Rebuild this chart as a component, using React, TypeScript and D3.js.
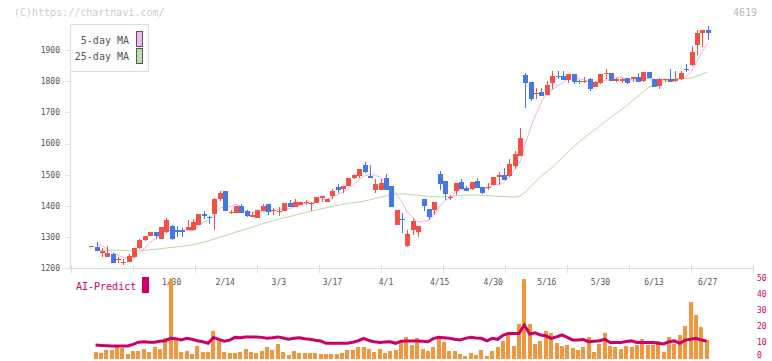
import React, { useEffect, useRef } from 'react';
import * as d3 from 'd3';

const W = 772;
const H = 361;

// daily candles, Jan 8 .. Jun 27
const opens = [
  1271, 1269, 1250, 1237, 1246, 1226, 1219, 1220, 1237, 1264,
  1291, 1302, 1316, 1295, 1316, 1336, 1323, 1323, 1322, 1323,
  1340, 1375, 1366, 1375, 1422, 1449, 1377, 1377, 1400, 1385,
  1366, 1360, 1385, 1407, 1384, 1379, 1385, 1409, 1398, 1403,
  1410, 1406, 1409, 1425, 1413, 1431, 1460, 1455, 1463, 1488,
  1495, 1530, 1497, 1450, 1452, 1490, 1465, 1340, 1358, 1270,
  1323, 1318, 1423, 1391, 1388, 1503, 1481, 1426, 1447, 1476,
  1458, 1455, 1481, 1460, 1458, 1468, 1493, 1500, 1495, 1527,
  1559, 1819, 1798, 1758, 1765, 1755, 1793, 1817, 1817, 1804,
  1822, 1801, 1796, 1808, 1781, 1795, 1822, 1826, 1801, 1801,
  1809, 1806, 1815, 1801, 1830, 1806, 1784, 1806, 1808, 1801,
  1806, 1840, 1852, 1917, 1954, 1964,
];
const closes = [
  1272, 1257, 1257, 1249, 1218, 1229, 1221, 1240, 1265, 1291,
  1303, 1316, 1302, 1331, 1356, 1295, 1315, 1315, 1331, 1347,
  1375, 1369, 1363, 1422, 1440, 1385, 1381, 1400, 1377, 1368,
  1371, 1388, 1400, 1379, 1388, 1385, 1409, 1396, 1413, 1413,
  1412, 1410, 1430, 1433, 1423, 1447, 1450, 1465, 1488, 1500,
  1520, 1508, 1489, 1471, 1472, 1452, 1398, 1388, 1356, 1310,
  1352, 1336, 1400, 1366, 1413, 1471, 1438, 1430, 1474, 1455,
  1447, 1477, 1458, 1441, 1460, 1493, 1500, 1484, 1536, 1565,
  1619, 1793, 1742, 1762, 1751, 1787, 1817, 1814, 1804, 1822,
  1798, 1796, 1801, 1774, 1798, 1822, 1826, 1801, 1808, 1806,
  1793, 1812, 1798, 1830, 1810, 1781, 1808, 1808, 1798, 1806,
  1826, 1836, 1895, 1954, 1964, 1954,
];
const highs = [
  1272, 1284, 1266, 1272, 1249, 1237, 1229, 1245, 1266, 1293,
  1305, 1316, 1316, 1333, 1361, 1338, 1337, 1330, 1354, 1357,
  1375, 1385, 1369, 1425, 1448, 1449, 1387, 1400, 1407, 1388,
  1379, 1388, 1406, 1407, 1394, 1398, 1409, 1420, 1423, 1413,
  1420, 1412, 1430, 1433, 1423, 1453, 1469, 1465, 1488, 1503,
  1520, 1540, 1530, 1487, 1487, 1503, 1465, 1388, 1377, 1323,
  1360, 1336, 1423, 1391, 1413, 1512, 1481, 1436, 1474, 1485,
  1465, 1477, 1490, 1460, 1474, 1493, 1509, 1522, 1549, 1577,
  1651, 1826, 1798, 1779, 1779, 1801, 1832, 1834, 1834, 1822,
  1822, 1805, 1812, 1811, 1801, 1822, 1838, 1826, 1810, 1810,
  1809, 1815, 1826, 1830, 1830, 1806, 1810, 1808, 1838, 1834,
  1833, 1854, 1912, 1964, 1964, 1977,
];
const lows = [
  1271, 1257, 1237, 1237, 1218, 1216, 1210, 1220, 1233, 1262,
  1289, 1302, 1293, 1293, 1314, 1290, 1301, 1301, 1322, 1323,
  1340, 1358, 1342, 1323, 1415, 1385, 1373, 1377, 1377, 1366,
  1366, 1360, 1385, 1372, 1372, 1368, 1385, 1396, 1398, 1403,
  1403, 1385, 1409, 1414, 1413, 1421, 1443, 1443, 1463, 1485,
  1490, 1505, 1489, 1443, 1450, 1451, 1395, 1340, 1313, 1268,
  1307, 1300, 1383, 1355, 1371, 1452, 1418, 1418, 1436, 1455,
  1447, 1450, 1458, 1439, 1450, 1468, 1468, 1484, 1493, 1519,
  1559, 1715, 1735, 1744, 1751, 1755, 1774, 1806, 1804, 1795,
  1791, 1791, 1793, 1767, 1781, 1791, 1806, 1801, 1798, 1793,
  1791, 1798, 1798, 1796, 1806, 1781, 1775, 1796, 1798, 1798,
  1804, 1829, 1850, 1885, 1911, 1933,
];
const ma5 = [
  null, 1277, 1272, 1263, 1250, 1242, 1235, 1231, 1235, 1249,
  1264, 1283, 1295, 1309, 1322, 1320, 1320, 1322, 1322, 1321,
  1337, 1347, 1357, 1375, 1394, 1396, 1398, 1406, 1397, 1382,
  1379, 1381, 1381, 1381, 1385, 1388, 1392, 1391, 1398, 1403,
  1409, 1409, 1416, 1420, 1422, 1429, 1437, 1444, 1455, 1470,
  1485, 1496, 1501, 1498, 1492, 1478, 1456, 1436, 1413, 1381,
  1361, 1348, 1351, 1353, 1373, 1397, 1418, 1424, 1445, 1454,
  1449, 1457, 1462, 1456, 1457, 1466, 1470, 1476, 1495, 1516,
  1541, 1599, 1651, 1696, 1733, 1767, 1772, 1786, 1795, 1809,
  1811, 1807, 1804, 1798, 1793, 1798, 1804, 1804, 1811, 1813,
  1807, 1804, 1803, 1808, 1809, 1806, 1805, 1807, 1801, 1800,
  1809, 1815, 1832, 1863, 1895, 1921,
];
const ma25 = [
  null, 1259, 1259, 1258, 1258, 1258, 1257, 1257, 1256, 1256,
  1257, 1259, 1261, 1263, 1265, 1267, 1269, 1271, 1273, 1276,
  1280, 1284, 1289, 1294, 1300, 1305, 1310, 1316, 1321, 1326,
  1331, 1337, 1343, 1348, 1353, 1358, 1362, 1366, 1370, 1375,
  1379, 1383, 1387, 1391, 1395, 1398, 1402, 1405, 1408, 1411,
  1413, 1416, 1420, 1424, 1428, 1432, 1436, 1438, 1439, 1438,
  1436, 1434, 1432, 1431, 1430, 1429, 1429, 1430, 1432, 1434,
  1435, 1435, 1435, 1434, 1433, 1432, 1431, 1430, 1429, 1429,
  1432, 1445, 1462, 1480, 1496, 1510, 1524, 1540, 1557, 1574,
  1590, 1604, 1618, 1632, 1645, 1658, 1672, 1685, 1697, 1710,
  1722, 1738, 1752, 1766, 1780, 1790, 1798, 1802, 1806, 1808,
  1809, 1809, 1810, 1816, 1823, 1830,
];
const volumes = [
  null, 4.1, 3.4, 5.3, 5.3, 7.4, 6.8, 2.8, 4.7, 4.7,
  5.9, 4.1, 7.2, 5.9, 12.8, 50, 11.6, 4.1, 4.7, 2.8,
  7.8, 4.1, 4.1, 17.2, 10.9, 4.1, 3.4, 3.4, 4.1, 5.9,
  4.1, 3.4, 4.7, 7.2, 5.3, 9.1, 4.1, 2.2, 4.7, 3.4,
  3.4, 3.4, 3.4, 2.8, 2.8, 2.8, 2.8, 3.4, 5.3, 5.3,
  7.2, 7.2, 5.9, 4.1, 5.9, 3.4, 4.7, 5.3, 11.6, 13.4,
  8.4, 12.8, 5.9, 4.7, 7.2, 12.2, 10.3, 4.7, 4.7, 2.8,
  1.6, 3.4, 2.2, 5.3, 1.6, 4.7, 7.2, 10.9, 15.9, 7.8,
  21.6, 50, 21.6, 9.1, 10.9, 17.2, 15.9, 9.7, 7.8, 8.4,
  6.6, 5.3, 7.2, 13.4, 4.1, 9.1, 15.9, 7.8, 7.2, 5.9,
  7.8, 7.2, 8.4, 12.2, 8.4, 8.4, 10.9, 4.1, 13.4, 9.1,
  14.7, 20.3, 35.3, 27.2, 19.7, 11.6,
];
const volumeMA = [
  null, 8.4, 8.2, 8.0, 7.8, 7.8, 7.8, 7.8, 8.8, 10.2,
  10.5, 10.1, 10.2, 10.8, 11.1, 12.6, 12.4, 11.6, 12.6, 12,
  11.1, 10.5, 9.5, 13.2, 12, 10.8, 11.5, 13.2, 13, 13.5,
  13.5, 13.5, 13.2, 12.6, 13, 13.5, 12.8, 12, 12.6, 13,
  12.4, 12, 11.4, 11, 9.5, 9.5, 9.5, 9.5, 9.5, 10.2,
  11.1, 12.6, 11.2, 10.5, 10, 10.3, 10.5, 9.5, 10.8, 11,
  11, 11, 10.8, 10.5, 12.4, 13.2, 13, 12.6, 12, 11.6,
  12.6, 13.2, 12.8, 12.6, 11, 12.6, 12, 14.5, 15.7, 15.7,
  15.7, 20.9, 15.3, 16, 14.7, 14.2, 12.6, 13.5, 14.7, 13.2,
  11.6, 11.6, 11.8, 10.5, 10.8, 11.1, 12, 10, 10, 10,
  10.6, 11, 10, 10, 10, 10, 9.5, 9.1, 10.5, 11,
  9.5, 11.5, 12, 12.6, 11.6, 11,
];

const dateLabels = ['1/30', '2/14', '3/3', '3/17', '4/1', '4/15', '4/30', '5/16', '5/30', '6/13', '6/27'];
const dateIndex = [15, 25, 35, 45, 55, 65, 75, 85, 95, 105, 115];
const priceTicks = [1200, 1300, 1400, 1500, 1600, 1700, 1800, 1900];
const volumeTicks = [0, 10, 20, 30, 40, 50];

const FONT = '"DejaVu Sans Mono", monospace';
const UP = '#f25042';
const DOWN = '#4477e8';
const AXIS = '#dddddd';
const PREDICT = '#cc0066';

const App: React.FC = () => {
  const ref = useRef<SVGSVGElement>(null);

  useEffect(() => {
    const svg = d3.select(ref.current);
    svg.selectAll('*').remove();

    const x = d3.scaleLinear().domain([0, opens.length - 1]).range([91.2, 707.6]);
    const y = d3.scaleLinear().domain([1200, 1900]).range([268.3, 50]);
    const yv = d3.scaleLinear().domain([0, 50]).range([358.5, 278.5]);
    const frame = d3.scaleLinear().domain([0, 11]).range([70.5, 752.5]);

    // watermark + code
    svg.append('text').attr('x', 14).attr('y', 16).text('(C)https://chartnavi.com/')
      .attr('font-family', FONT).attr('font-size', 10).attr('fill', '#cccccc');
    svg.append('text').attr('x', 757).attr('y', 16).attr('text-anchor', 'end').text('4619')
      .attr('font-family', FONT).attr('font-size', 10).attr('fill', '#bbbbbb');

    // axes frame
    const ax = svg.append('g').attr('shape-rendering', 'crispEdges').attr('stroke', AXIS);
    ax.append('line').attr('x1', 70.5).attr('x2', 70.5).attr('y1', 24).attr('y2', 268.5);
    ax.append('line').attr('x1', 70.5).attr('x2', 752.5).attr('y1', 268.5).attr('y2', 268.5);
    ax.selectAll('.xt').data(d3.range(12)).enter().append('line')
      .attr('x1', d => Math.round(frame(d)) + 0.5).attr('x2', d => Math.round(frame(d)) + 0.5)
      .attr('y1', 265).attr('y2', 273);
    ax.selectAll('.yt').data(priceTicks).enter().append('line')
      .attr('x1', 65).attr('x2', 70.5)
      .attr('y1', d => Math.round(y(d)) + 0.5).attr('y2', d => Math.round(y(d)) + 0.5);

    svg.append('g').selectAll('text').data(priceTicks).enter().append('text')
      .attr('x', 60).attr('y', d => y(d)).attr('dy', '0.35em').attr('text-anchor', 'end')
      .attr('font-family', FONT).attr('font-size', 8).attr('fill', '#555555')
      .text(d => d);

    svg.append('g').selectAll('text').data(dateLabels).enter().append('text')
      .attr('x', (d, i) => x(dateIndex[i])).attr('y', 285).attr('text-anchor', 'middle')
      .attr('font-family', FONT).attr('font-size', 8).attr('fill', '#555555')
      .text(d => d);

    // moving averages
    const line = d3.line<number | null>()
      .defined(d => d != null)
      .x((d, i) => x(i))
      .y(d => y(d as number));
    svg.append('path').datum(ma25).attr('d', line).attr('fill', 'none')
      .attr('stroke', '#b2dca4').attr('stroke-width', 1);
    svg.append('path').datum(ma5).attr('d', line).attr('fill', 'none')
      .attr('stroke', '#eab2ea').attr('stroke-width', 1);

    // candles
    const candles = svg.append('g').attr('shape-rendering', 'crispEdges');
    const idx = d3.range(opens.length);
    candles.selectAll('.wick').data(idx).enter().append('line')
      .attr('x1', i => Math.round(x(i)) + 0.5).attr('x2', i => Math.round(x(i)) + 0.5)
      .attr('y1', i => y(highs[i])).attr('y2', i => y(lows[i]))
      .attr('stroke', i => (closes[i] >= opens[i] ? UP : DOWN)).attr('stroke-width', 1);
    candles.selectAll('.body').data(idx).enter().append('rect')
      .attr('x', i => Math.round(x(i)) - 2)
      .attr('width', 5)
      .attr('y', i => y(Math.max(opens[i], closes[i])))
      .attr('height', i => Math.max(1, Math.abs(y(opens[i]) - y(closes[i]))))
      .attr('fill', i => (closes[i] >= opens[i] ? UP : DOWN));

    // legend
    const lg = svg.append('g');
    lg.append('rect').attr('x', 70.5).attr('y', 24.5).attr('width', 78).attr('height', 47)
      .attr('fill', '#ffffff').attr('stroke', AXIS);
    lg.append('text').attr('x', 129).attr('y', 44).attr('text-anchor', 'end').text('5-day MA')
      .attr('font-family', FONT).attr('font-size', 10).attr('fill', '#555555');
    lg.append('text').attr('x', 129).attr('y', 60).attr('text-anchor', 'end').text('25-day MA')
      .attr('font-family', FONT).attr('font-size', 10).attr('fill', '#555555');
    lg.append('rect').attr('x', 136.5).attr('y', 31.5).attr('width', 6).attr('height', 15)
      .attr('fill', '#f0b8f0').attr('stroke', '#555555');
    lg.append('rect').attr('x', 136.5).attr('y', 48.5).attr('width', 6).attr('height', 15)
      .attr('fill', '#b8e0b0').attr('stroke', '#555555');

    // AI-Predict panel
    svg.append('text').attr('x', 76).attr('y', 290).text('AI-Predict')
      .attr('font-family', FONT).attr('font-size', 10).attr('fill', PREDICT);
    svg.append('rect').attr('x', 142).attr('y', 277).attr('width', 7).attr('height', 16)
      .attr('fill', PREDICT);

    svg.append('g').attr('shape-rendering', 'crispEdges').selectAll('rect')
      .data(idx.filter(i => volumes[i] != null)).enter().append('rect')
      .attr('x', i => Math.round(x(i)) - 3)
      .attr('width', 4)
      .attr('y', i => yv(volumes[i] as number))
      .attr('height', i => yv(0) - yv(volumes[i] as number))
      .attr('fill', '#f0963c');

    const vline = d3.line<number | null>()
      .defined(d => d != null)
      .x((d, i) => x(i) - 1)
      .y(d => yv(d as number));
    svg.append('path').datum(volumeMA).attr('d', vline).attr('fill', 'none')
      .attr('stroke', PREDICT).attr('stroke-width', 3);

    svg.append('g').selectAll('text').data(volumeTicks).enter().append('text')
      .attr('x', 757).attr('y', d => Math.min(yv(d), 355.5)).attr('dy', '0.35em')
      .attr('font-family', FONT).attr('font-size', 8).attr('fill', PREDICT)
      .text(d => d);
  }, []);

  return (
    <div style={{ position: 'fixed', left: 0, top: 0 }}>
      <svg ref={ref} width={W} height={H} style={{ display: 'block', background: '#fff' }} />
    </div>
  );
};

export default App;
